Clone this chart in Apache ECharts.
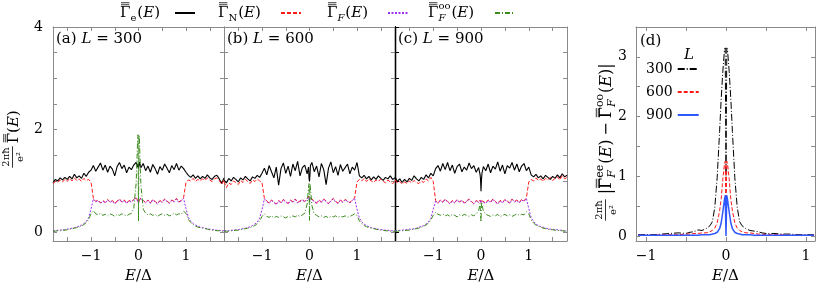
<!DOCTYPE html>
<html><head><meta charset="utf-8">
<script src="https://cdn.jsdelivr.net/npm/echarts@6/dist/echarts.min.js"></script>
<style>html,body{margin:0;padding:0;background:#fff}#c{width:817px;height:289px}</style>
</head><body><div id="c"></div><script>
// ---------- data ----------
const E = [-1.8,-1.75,-1.7,-1.65,-1.6,-1.55,-1.5,-1.45,-1.4,-1.35,-1.3,-1.25,-1.2,-1.15,-1.1,-1.05,-1.0,-0.95,-0.9,-0.85,-0.8,-0.75,-0.7,-0.65,-0.6,-0.55,-0.5,-0.45,-0.4,-0.35,-0.3,-0.25,-0.2,-0.15,-0.1,-0.05,-0.02,-0.01,0,0.01,0.02,0.05,0.1,0.15,0.2,0.25,0.3,0.35,0.4,0.45,0.5,0.55,0.6,0.65,0.7,0.75,0.8,0.85,0.9,0.95,1.0,1.05,1.1,1.15,1.2,1.25,1.3,1.35,1.4,1.45,1.5,1.55,1.6,1.65,1.7,1.75,1.8];

// panel (a) L = 300
const gE_a = [0.97,1.03,1.00,1.06,1.02,1.07,1.03,1.09,1.04,1.13,1.06,1.10,1.05,1.15,1.09,1.17,1.21,1.30,1.19,1.27,1.35,1.21,1.31,1.17,1.29,1.23,1.10,1.28,1.36,1.24,1.31,1.16,1.27,1.22,1.31,1.36,1.27,1.33,1.25,1.30,1.37,1.26,1.34,1.20,1.29,1.17,1.32,1.24,1.13,1.28,1.21,1.33,1.25,1.16,1.30,1.22,1.34,1.21,1.29,1.24,1.17,1.11,1.07,1.12,1.05,1.10,1.04,1.09,1.05,1.12,1.06,1.03,1.09,1.11,1.04,0.95,1.06];
const gN_a = [0.95,0.99,0.97,1.02,0.98,1.03,0.99,1.05,1.00,1.06,1.01,1.04,0.99,1.05,1.01,1.03,0.98,0.66,0.60,0.63,0.57,0.62,0.58,0.64,0.59,0.62,0.56,0.61,0.65,0.59,0.63,0.57,0.62,0.60,0.64,0.68,0.62,0.60,0.58,0.61,0.63,0.67,0.62,0.58,0.63,0.57,0.64,0.60,0.56,0.62,0.59,0.65,0.61,0.57,0.63,0.60,0.66,0.59,0.62,0.68,0.97,1.02,1.00,1.05,0.99,1.03,1.00,1.04,1.01,1.06,1.02,0.99,1.04,1.06,1.01,0.93,1.03];
const gF_a = [0.03,0.03,0.04,0.04,0.05,0.05,0.06,0.07,0.08,0.09,0.10,0.12,0.14,0.17,0.21,0.28,0.45,0.65,0.59,0.62,0.56,0.61,0.57,0.63,0.58,0.61,0.55,0.60,0.64,0.58,0.62,0.56,0.61,0.59,0.63,0.67,0.61,0.59,0.57,0.60,0.62,0.66,0.61,0.57,0.62,0.56,0.63,0.59,0.55,0.61,0.58,0.64,0.60,0.56,0.62,0.59,0.65,0.58,0.61,0.66,0.46,0.29,0.21,0.17,0.14,0.12,0.10,0.09,0.08,0.07,0.06,0.05,0.05,0.04,0.04,0.03,0.03];
const gOO_a = [0.02,0.02,0.03,0.03,0.04,0.04,0.05,0.06,0.07,0.08,0.09,0.10,0.12,0.15,0.19,0.25,0.36,0.42,0.36,0.34,0.37,0.33,0.35,0.32,0.36,0.34,0.31,0.35,0.33,0.36,0.34,0.32,0.35,0.37,0.46,0.95,1.75,1.90,0.22,1.90,1.78,0.92,0.45,0.37,0.34,0.36,0.33,0.35,0.31,0.34,0.36,0.33,0.35,0.32,0.34,0.37,0.34,0.36,0.35,0.41,0.37,0.25,0.19,0.15,0.12,0.10,0.09,0.08,0.07,0.06,0.05,0.04,0.04,0.03,0.03,0.02,0.02];

// panel (b) L = 600
const gE_b = [1.02,0.96,1.05,1.00,1.07,1.03,0.98,1.06,1.02,1.09,1.04,1.00,1.08,1.05,1.11,1.07,1.15,1.25,1.12,1.30,1.18,1.06,1.27,0.92,1.24,1.35,1.15,1.29,1.09,1.33,1.20,1.38,1.10,1.26,1.31,1.14,1.27,1.05,0.99,1.12,1.30,1.36,1.18,1.29,1.08,1.34,1.22,0.93,1.25,1.37,1.16,1.28,1.11,1.32,1.19,1.26,1.33,1.14,1.27,1.21,1.36,1.10,1.06,1.11,1.04,1.09,1.02,1.08,1.03,1.10,1.05,1.01,1.07,1.04,1.10,1.03,1.06];
const gN_b = [0.99,0.87,0.96,0.93,1.00,0.97,0.93,1.01,0.97,1.03,0.99,0.95,1.02,0.99,1.04,1.00,0.97,0.66,0.61,0.57,0.63,0.59,0.55,0.62,0.58,0.64,0.60,0.56,0.63,0.59,0.65,0.58,0.61,0.64,0.60,0.66,0.70,0.68,0.62,0.69,0.71,0.65,0.60,0.57,0.63,0.59,0.65,0.61,0.56,0.62,0.66,0.60,0.57,0.63,0.59,0.64,0.61,0.58,0.63,0.67,0.98,1.03,1.00,1.05,0.99,1.04,1.00,0.97,1.02,0.99,1.04,1.00,0.96,1.02,0.98,0.95,0.99];
const gF_b = [0.03,0.03,0.03,0.04,0.04,0.05,0.05,0.06,0.07,0.08,0.09,0.11,0.13,0.16,0.20,0.27,0.44,0.65,0.60,0.56,0.62,0.58,0.54,0.61,0.57,0.63,0.59,0.55,0.62,0.58,0.64,0.57,0.60,0.63,0.59,0.65,0.69,0.67,0.61,0.68,0.70,0.64,0.59,0.56,0.62,0.58,0.64,0.60,0.55,0.61,0.65,0.59,0.56,0.62,0.58,0.63,0.60,0.57,0.62,0.66,0.45,0.28,0.20,0.16,0.13,0.11,0.09,0.08,0.07,0.06,0.05,0.05,0.04,0.04,0.03,0.03,0.03];
const gOO_b = [0.02,0.02,0.02,0.03,0.03,0.04,0.04,0.05,0.06,0.07,0.08,0.09,0.11,0.13,0.17,0.22,0.31,0.36,0.31,0.29,0.32,0.28,0.31,0.29,0.32,0.30,0.28,0.31,0.29,0.32,0.30,0.33,0.31,0.34,0.37,0.55,0.88,0.95,0.23,0.95,0.86,0.52,0.36,0.33,0.30,0.32,0.29,0.31,0.28,0.31,0.30,0.32,0.29,0.31,0.30,0.32,0.29,0.31,0.33,0.36,0.33,0.22,0.17,0.13,0.11,0.09,0.08,0.07,0.06,0.05,0.04,0.04,0.03,0.03,0.02,0.02,0.02];

// panel (c) L = 900
const gE_c = [1.08,0.99,1.04,0.97,1.03,0.98,1.05,1.01,1.10,1.04,1.00,1.07,1.03,1.12,1.06,1.15,1.10,1.24,1.30,1.19,1.34,1.22,1.36,1.20,1.31,1.15,1.28,1.33,1.18,1.27,1.21,1.35,1.24,1.30,1.17,1.26,1.13,1.04,0.80,1.02,1.15,1.28,1.20,1.33,1.16,1.29,1.23,1.37,1.19,1.31,1.14,1.30,1.25,1.36,1.21,1.33,1.18,1.29,1.34,1.20,1.27,1.12,1.08,1.13,1.06,1.10,1.04,1.11,1.07,1.03,1.09,1.05,1.12,1.06,1.14,1.08,1.11];
const gN_c = [1.02,0.96,0.99,0.94,0.98,0.95,1.00,0.96,1.01,0.97,0.95,1.00,0.97,1.04,1.00,1.07,0.99,0.62,0.57,0.63,0.59,0.65,0.60,0.56,0.62,0.58,0.64,0.59,0.63,0.57,0.61,0.65,0.60,0.56,0.62,0.59,0.63,0.61,0.58,0.62,0.64,0.60,0.57,0.63,0.59,0.65,0.60,0.56,0.62,0.58,0.64,0.61,0.57,0.65,0.60,0.63,0.58,0.64,0.61,0.67,0.98,1.03,1.00,1.06,1.01,1.04,0.99,1.05,1.02,1.07,1.01,1.05,1.08,1.02,1.10,1.04,1.07];
const gF_c = [0.03,0.03,0.04,0.04,0.05,0.05,0.06,0.06,0.07,0.08,0.10,0.11,0.13,0.16,0.20,0.27,0.45,0.61,0.56,0.62,0.58,0.64,0.59,0.55,0.61,0.57,0.63,0.58,0.62,0.56,0.60,0.64,0.59,0.55,0.61,0.58,0.62,0.60,0.57,0.61,0.63,0.59,0.56,0.62,0.58,0.64,0.59,0.55,0.61,0.57,0.63,0.60,0.56,0.64,0.59,0.62,0.57,0.63,0.60,0.66,0.46,0.28,0.21,0.16,0.13,0.11,0.10,0.08,0.07,0.06,0.06,0.05,0.05,0.04,0.04,0.03,0.03];
const gOO_c = [0.02,0.02,0.03,0.03,0.03,0.04,0.04,0.05,0.06,0.07,0.08,0.10,0.12,0.14,0.18,0.24,0.33,0.39,0.35,0.33,0.36,0.32,0.34,0.31,0.35,0.33,0.30,0.34,0.32,0.35,0.33,0.31,0.34,0.32,0.36,0.42,0.56,0.59,0.20,0.59,0.55,0.41,0.35,0.33,0.31,0.34,0.32,0.35,0.30,0.33,0.35,0.32,0.34,0.31,0.33,0.36,0.33,0.35,0.34,0.40,0.36,0.24,0.18,0.14,0.12,0.10,0.08,0.07,0.06,0.05,0.05,0.04,0.04,0.03,0.03,0.02,0.02];

// panel (d): |Gee_F - Goo_F|
const ED = [-1.1,-1.0,-0.9,-0.8,-0.7,-0.6,-0.5,-0.45,-0.4,-0.35,-0.3,-0.25,-0.2,-0.17,-0.14,-0.11,-0.08,-0.06,-0.04,-0.02,-0.01,0,0.01,0.02,0.04,0.06,0.08,0.11,0.14,0.17,0.2,0.25,0.3,0.35,0.4,0.45,0.5,0.6,0.7,0.8,0.9,1.0,1.1];
const dL300 = [0.02,0.02,0.02,0.03,0.04,0.05,0.04,0.06,0.07,0.10,0.09,0.12,0.17,0.24,0.48,0.98,1.75,2.30,2.75,3.10,3.15,1.00,3.15,3.10,2.75,2.30,1.75,0.98,0.48,0.24,0.17,0.12,0.09,0.08,0.07,0.05,0.04,0.04,0.03,0.03,0.02,0.02,0.02];
const dL600 = [0.01,0.01,0.01,0.02,0.02,0.02,0.03,0.03,0.04,0.04,0.05,0.05,0.07,0.09,0.13,0.22,0.42,0.62,0.95,1.20,1.25,0.30,1.25,1.20,0.95,0.62,0.42,0.22,0.13,0.09,0.07,0.05,0.05,0.04,0.03,0.03,0.02,0.02,0.02,0.01,0.01,0.01,0.01];
const dL900 = [0.01,0.01,0.01,0.01,0.01,0.01,0.01,0.01,0.01,0.01,0.02,0.02,0.02,0.03,0.04,0.06,0.12,0.22,0.40,0.60,0.68,0.00,0.68,0.60,0.40,0.22,0.12,0.06,0.04,0.03,0.02,0.02,0.02,0.01,0.01,0.01,0.01,0.01,0.01,0.01,0.01,0.01,0.01];

const xTicksABC = [-1.5,-1,-0.5,0,0.5,1,1.5];
const xLabelsABC = [-1,0,1];
const yTicksABC = [0,0.5,1,1.5,2,2.5,3,3.5,4];
const yLabelsABC = [0,2,4];
const xTicksD = [-1,-0.5,0,0.5,1];
const xLabelsD = [-1,0,1];
const yTicksD = [0,0.5,1,1.5,2,2.5,3,3.5];
const yLabelsD = [0,1,2,3];
const panelL = ['300','600','900'];

// ---------- helpers ----------
const FONT = 'DejaVu Serif';
const GRAY = '#8a8a8a';
const cv = document.createElement('canvas').getContext('2d');
function tw(t, s, it) { cv.font = (it ? 'italic ' : '') + s + 'px "' + FONT + '"'; return cv.measureText(t).width; }
function txt(t, x, y, s, it, al) {
  return {type: 'text', x: x, y: y, style: {text: t, fontFamily: FONT, fontSize: s, fontStyle: it ? 'italic' : 'normal', fill: '#000', textAlign: al || 'left', textVerticalAlign: 'middle'}};
}
function hline(x1, x2, y) { return {type: 'line', shape: {x1: x1, y1: y, x2: x2, y2: y}, style: {stroke: '#000', lineWidth: 0.8}}; }
function mathGroup(pieces, x, y, rot, center, base) {
  const B = base || 15; const ch = []; let cx = 0;
  for (const p of pieces) {
    if (p.gap) { cx += p.gap; continue; }
    if (p.frac) {
      const s = p.s || 10;
      const w = Math.max(tw(p.frac[0], s, p.fi), tw(p.frac[1], s, p.fi)) + 2;
      ch.push(txt(p.frac[0], cx + w / 2, -7.5, s, p.fi, 'center'));
      ch.push(txt(p.frac[1], cx + w / 2, 6.5, s, p.fi, 'center'));
      ch.push(hline(cx, cx + w, -1.5));
      cx += w + 3;
    } else if (p.ss) {
      const s = p.s || Math.round(B * 0.68);
      const a = p.ss[0], b = p.ss[1];
      const w = Math.max(a ? tw(a, s, p.ai) : 0, b ? tw(b, s, p.bi) : 0);
      if (a) ch.push(txt(a, cx, -B * 0.42, s, p.ai, 'left'));
      if (b) ch.push(txt(b, cx, B * 0.35, s, p.bi, 'left'));
      cx += w + 1;
    } else {
      const s = p.s || B;
      const w = tw(p.t, s, p.i);
      ch.push(txt(p.t, cx, p.dy || 0, s, p.i, 'left'));
      if (p.bar) {
        ch.push(hline(cx + 1, cx + w - 1, -(0.45 * s + 1.5)));
        ch.push(hline(cx + 1, cx + w - 1, -(0.45 * s + 3.5)));
      }
      cx += w;
    }
  }
  const off = center ? -cx / 2 : 0;
  ch.forEach(c => { if (c.type === 'text') c.x += off; else { c.shape.x1 += off; c.shape.x2 += off; } });
  return {type: 'group', x: x, y: y, rotation: rot || 0, children: ch};
}
const minus = v => (v < 0 ? '\u2212' + (-v) : String(v));
const pairs = (xs, ys) => xs.map((x, i) => [x, ys[i]]);

// ---------- layout ----------
const grids = [
  {left: 53, top: 27, width: 171, height: 219},
  {left: 224, top: 27, width: 171, height: 219},
  {left: 395, top: 27, width: 172, height: 219},
  {left: 636, top: 27, width: 179, height: 220}
];
const xAxes = [], yAxes = [];
grids.forEach((g, i) => {
  const isD = i === 3;
  const xmin = isD ? -1.125 : -1.8, xmax = isD ? 1.1125 : 1.8;
  const ymin = isD ? -0.086 : -0.17, ymax = isD ? 3.5 : 4;
  const xt = isD ? xTicksD : xTicksABC, xl = isD ? xLabelsD : xLabelsABC;
  const yt = isD ? yTicksD : yTicksABC, yl = isD ? yLabelsD : yLabelsABC;
  const lineCol = i === 2 ? '#000' : GRAY;
  const baseX = {type: 'value', gridIndex: i, min: xmin, max: xmax, splitLine: {show: false}};
  xAxes.push(Object.assign({}, baseX, {position: 'bottom',
    axisLine: {show: true, onZero: false, lineStyle: {color: GRAY, width: 1}},
    axisTick: {show: true, inside: true, length: 4, customValues: xt, lineStyle: {color: GRAY}},
    axisLabel: {show: true, customValues: xl, formatter: minus, margin: 8, fontFamily: FONT, fontSize: 14, color: '#000'},
    name: '{i|E}/\u0394', nameLocation: 'middle', nameGap: 28,
    nameTextStyle: {fontFamily: FONT, fontSize: 15, color: '#000', rich: {i: {fontFamily: FONT, fontSize: 15, fontStyle: 'italic'}}}
  }));
  xAxes.push(Object.assign({}, baseX, {position: 'top',
    axisLine: {show: true, onZero: false, lineStyle: {color: GRAY, width: 1}},
    axisTick: {show: true, inside: true, length: 4, customValues: xt, lineStyle: {color: GRAY}},
    axisLabel: {show: false}
  }));
  const baseY = {type: 'value', gridIndex: i, min: ymin, max: ymax, splitLine: {show: false}};
  yAxes.push(Object.assign({}, baseY, {position: 'left',
    axisLine: {show: true, onZero: false, lineStyle: {color: lineCol, width: i === 2 ? 1.3 : 1}},
    axisTick: {show: true, inside: true, length: 4, customValues: yt, lineStyle: {color: i === 2 ? '#000' : GRAY}},
    axisLabel: {show: i === 0 || i === 3, customValues: yl, margin: isD ? 9 : 10, fontFamily: FONT, fontSize: 14, color: '#000'}
  }));
  yAxes.push(Object.assign({}, baseY, {position: 'right',
    axisLine: {show: true, onZero: false, lineStyle: {color: i === 1 ? '#000' : GRAY, width: i === 1 ? 1.3 : 1}},
    axisTick: {show: true, inside: true, length: 4, customValues: yt, lineStyle: {color: GRAY}},
    axisLabel: {show: false}
  }));
});

const C_RED = '#ff1a1a', C_PUR = '#a030f0', C_GRN = '#3a8c1c', C_BLUE = '#3058ff';
const panelData = [[gE_a, gN_a, gF_a, gOO_a], [gE_b, gN_b, gF_b, gOO_b], [gE_c, gN_c, gF_c, gOO_c]];
const series = [];
panelData.forEach((arrs, i) => {
  const ax = {xAxisIndex: 2 * i, yAxisIndex: 2 * i, type: 'line', symbol: 'none', animation: false, silent: true};
  series.push(Object.assign({}, ax, {name: 'Ge', data: pairs(E, arrs[0]), lineStyle: {color: '#000', width: 1.1}, itemStyle: {color: '#000'}, z: 2}));
  series.push(Object.assign({}, ax, {name: 'GN', data: pairs(E, arrs[1]), lineStyle: {color: C_RED, width: 1, type: [4, 2]}, itemStyle: {color: C_RED}, z: 3}));
  series.push(Object.assign({}, ax, {name: 'GF', data: pairs(E, arrs[2]), lineStyle: {color: C_PUR, width: 1, type: [2, 1.5]}, itemStyle: {color: C_PUR}, z: 4}));
  series.push(Object.assign({}, ax, {name: 'Goo', data: pairs(E, arrs[3]), lineStyle: {color: C_GRN, width: 1, type: [5, 2, 1, 2]}, itemStyle: {color: C_GRN}, z: 5}));
});
const axD = {xAxisIndex: 6, yAxisIndex: 6, type: 'line', symbol: 'none', animation: false, silent: true};
series.push(Object.assign({}, axD, {name: '300', data: pairs(ED, dL300), lineStyle: {color: '#000', width: 1, type: [7, 2, 1, 2]}, itemStyle: {color: '#000'}, z: 2}));
series.push(Object.assign({}, axD, {name: '600', data: pairs(ED, dL600), lineStyle: {color: C_RED, width: 1, type: [4, 2]}, itemStyle: {color: C_RED}, z: 3}));
series.push(Object.assign({}, axD, {name: '900', data: pairs(ED, dL900), lineStyle: {color: C_BLUE, width: 1.5}, itemStyle: {color: C_BLUE}, z: 4}));

const legendIcon = (name, left) => ({data: [name], left: left, top: 8, itemWidth: 20, itemHeight: 10, itemGap: 0, padding: 0, selectedMode: false, itemStyle: {opacity: 0}, formatter: () => '', textStyle: {fontSize: 1}});
const legends = [legendIcon('Ge', 174), legendIcon('GN', 280), legendIcon('GF', 387), legendIcon('Goo', 494),
  {data: ['300', '600', '900'], orient: 'vertical', align: 'right', left: 646, top: 62, itemWidth: 21, itemHeight: 14, itemGap: 9, padding: 0, selectedMode: false, itemStyle: {opacity: 0},
   textStyle: {fontFamily: FONT, fontSize: 14, color: '#000'}}];

// ---------- text (math) ----------
const G = {t: '\u0393', bar: true};
const Ei = {t: 'E', i: true};
const graphics = [
  mathGroup([G, {ss: [null, 'e']}, {t: '('}, Ei, {t: ')'}], 120, 13),
  mathGroup([G, {ss: [null, 'N']}, {t: '('}, Ei, {t: ')'}], 218, 13),
  mathGroup([G, {ss: [null, 'F'], bi: true}, {t: '('}, Ei, {t: ')'}], 327, 13),
  mathGroup([G, {ss: ['oo', 'F'], bi: true}, {t: '('}, Ei, {t: ')'}], 428, 13),
  mathGroup([{t: '(a) '}, {t: 'L', i: true}, {t: ' = ' + panelL[0]}], 56, 39),
  mathGroup([{t: '(b) '}, {t: 'L', i: true}, {t: ' = ' + panelL[1]}], 227, 39),
  mathGroup([{t: '(c) '}, {t: 'L', i: true}, {t: ' = ' + panelL[2]}], 398, 39),
  mathGroup([{t: '(d)'}], 640, 41),
  mathGroup([{t: 'L', i: true}], 684, 55),
  mathGroup([{frac: ['2\u03c0\u0127', 'e\u00b2'], s: 10}, G, {t: '('}, Ei, {t: ')'}], 14, 139, Math.PI / 2, true),
  mathGroup([{frac: ['2\u03c0\u0127', 'e\u00b2'], s: 10}, {gap: 2}, {t: '|'}, G, {ss: ['ee', 'F'], bi: true}, {t: '('}, Ei, {t: ')'}, {gap: 4}, {t: '\u2212'}, {gap: 4}, G, {ss: ['oo', 'F'], bi: true}, {t: '('}, Ei, {t: ')|'}], 607, 142, Math.PI / 2, true, 16)
];

const chart = echarts.init(document.getElementById('c'), null, {renderer: 'canvas'});
chart.setOption({
  animation: false,
  backgroundColor: '#fff',
  grid: grids,
  xAxis: xAxes,
  yAxis: yAxes,
  legend: legends,
  series: series,
  graphic: graphics
});
</script></body></html>
